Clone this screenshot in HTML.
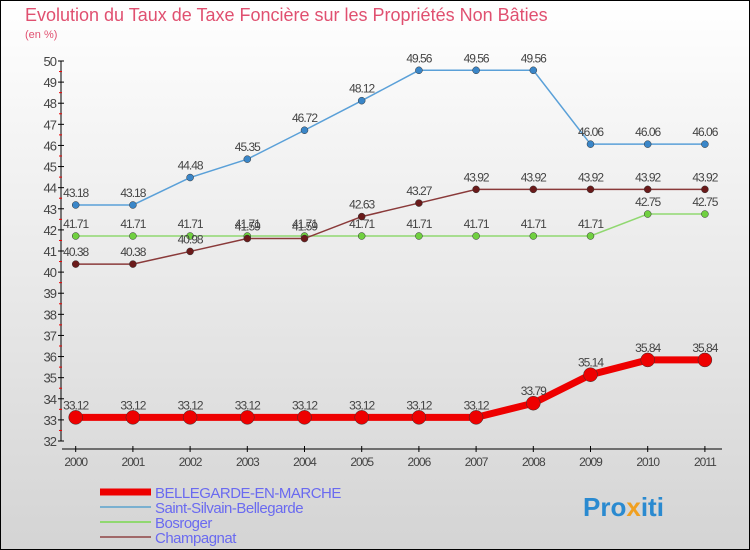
<!DOCTYPE html>
<html><head><meta charset="utf-8"><style>
body{margin:0;}
svg{display:block;font-family:"Liberation Sans",sans-serif;}
</style></head><body>
<svg id="c" width="750" height="550" xmlns="http://www.w3.org/2000/svg">
<defs><linearGradient id="bg" x1="0" y1="0" x2="0" y2="1"><stop offset="0" stop-color="#ffffff"/><stop offset="1" stop-color="#d4d4d4"/></linearGradient></defs>
<rect x="0.5" y="0.5" width="749" height="549" fill="url(#bg)" stroke="#000"/>
<text x="25" y="21" font-size="18" fill="#e05070">Evolution du Taux de Taxe Foncière sur les Propriétés Non Bâties</text>
<text x="25" y="38" font-size="11" fill="#e05070">(en %)</text>
<g id="axes"></g><g id="series"></g><g id="legend"></g>
<text x="583" y="516" font-size="26" font-weight="bold" fill="#2a8ad0">Pro<tspan fill="#f0a020">x</tspan>iti</text>
</svg>
<script>
const years=[2000,2001,2002,2003,2004,2005,2006,2007,2008,2009,2010,2011];
const bellegarde=[33.12,33.12,33.12,33.12,33.12,33.12,33.12,33.12,33.79,35.14,35.84,35.84];
const saintSilvain=[43.18,43.18,44.48,45.35,46.72,48.12,49.56,49.56,49.56,46.06,46.06,46.06];
const bosroger=[41.71,41.71,41.71,41.71,41.71,41.71,41.71,41.71,41.71,41.71,42.75,42.75];
const champagnat=[40.38,40.38,40.98,41.59,41.59,42.63,43.27,43.92,43.92,43.92,43.92,43.92];
const yTicks=[32,33,34,35,36,37,38,39,40,41,42,43,44,45,46,47,48,49,50];
const NS="http://www.w3.org/2000/svg";
const x=i=>75.7+i*57.2;
const y=v=>441-(v-32)*(380/18);
function mk(p,t,a){const e=document.createElementNS(NS,t);for(const k in a)e.setAttribute(k,a[k]);p.appendChild(e);return e;}
const ax=document.getElementById('axes');
let l=mk(ax,'line',{x1:61,y1:61,x2:61,y2:441,stroke:'#000'});

l=mk(ax,'line',{x1:62,y1:449,x2:722,y2:449,stroke:'#000'});

yTicks.forEach(v=>{
 mk(ax,'line',{x1:58,y1:y(v),x2:64,y2:y(v),stroke:'#000'});
 if(v<50) mk(ax,'line',{x1:59,y1:y(v+0.5),x2:62,y2:y(v+0.5),stroke:'#e00'});
 const t=mk(ax,'text',{x:56,y:y(v)+5,'font-size':13,'text-anchor':'end',fill:'#444','letter-spacing':'-1'});
 t.textContent=v;
 
});
years.forEach((yr,i)=>{
 mk(ax,'line',{x1:x(i),y1:446,x2:x(i),y2:452,stroke:'#000'});
 const t=mk(ax,'text',{x:x(i),y:466,'font-size':12,'text-anchor':'middle',fill:'#444','letter-spacing':'-1'});
 t.textContent=yr;
 
});
const sg=document.getElementById('series');
const defs=[
 {d:saintSilvain,c:'#5aa0d8',dot:'#3a86c8',w:1.5,r:3.5,n:'saint-silvain'},
 {d:bosroger,c:'#90d870',dot:'#70d040',w:1.5,r:3.5,n:'bosroger'},
 {d:champagnat,c:'#8a3a3a',dot:'#6a1a1a',w:1.5,r:3.5,n:'champagnat'},
 {d:bellegarde,c:'#ee0000',dot:'#ee0000',w:7,r:7,n:'bellegarde'}];
defs.forEach(s=>{
 const g=mk(sg,'g',{});
 
 const p=mk(g,'polyline',{points:s.d.map((v,i)=>x(i)+','+y(v)).join(' '),fill:'none',stroke:s.c,'stroke-width':s.w});
 s.d.forEach((v,i)=>{
  const c=mk(g,'circle',{cx:x(i),cy:y(v),r:s.r,fill:s.dot,stroke:'#333','stroke-width':0.5});
  
  const t=mk(g,'text',{x:x(i),y:y(v)-8,'font-size':12,'text-anchor':'middle',fill:'#444','letter-spacing':'-1'});
  t.textContent=v.toFixed(2);
  
 });
});
const lg=document.getElementById('legend');
[['BELLEGARDE-EN-MARCHE','#ee0000',7],['Saint-Silvain-Bellegarde','#7ab0d0',2],['Bosroger','#90d870',2],['Champagnat','#a06868',2]].forEach((e,i)=>{
 const yy=492+i*15;
 const g=mk(lg,'g',{});
 
 mk(g,'line',{x1:100,y1:yy,x2:151,y2:yy,stroke:e[1],'stroke-width':e[2]});
 const t=mk(g,'text',{x:155,y:yy+6,'font-size':15,fill:'#6a6af0','letter-spacing':'-0.5'});
 t.textContent=e[0];
});
</script>
</body></html>
